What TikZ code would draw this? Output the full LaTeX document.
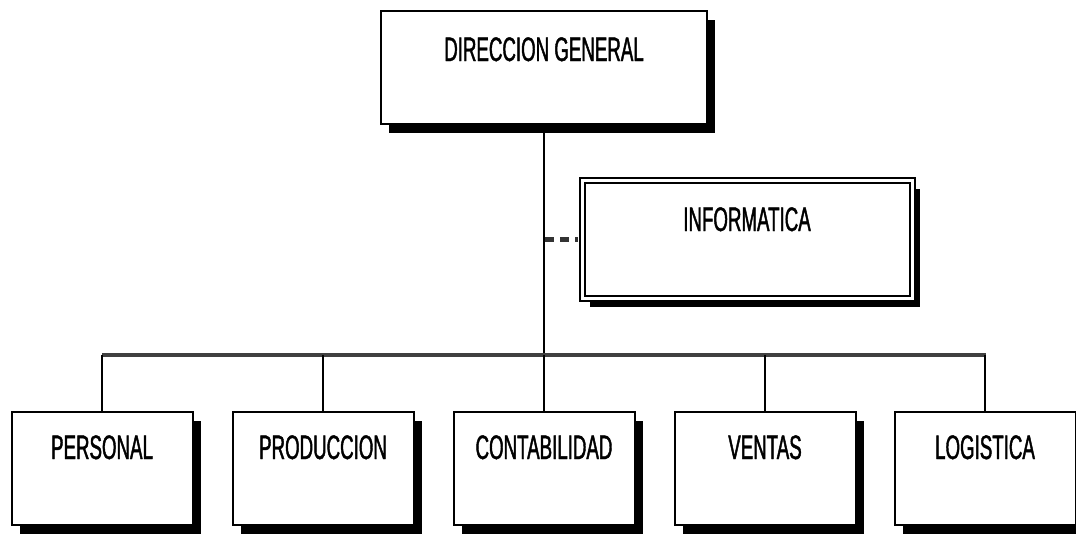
\documentclass[tikz,border=0pt]{standalone}
\usepackage{fontspec}
\setmainfont[FakeStretch=0.55,FakeBold=1.2]{Liberation Sans}
\usetikzlibrary{shadows}
\begin{document}
\begin{tikzpicture}[x=1pt,y=-1pt,
  box/.style={draw=black, line width=2pt, fill=white, rectangle, inner sep=0pt,
    font=\fontsize{34}{34}\selectfont,
    drop shadow={shadow xshift=8pt, shadow yshift=-9pt, fill=black, opacity=1}},
  unitbox/.style={box, minimum width=181pt, text height=47pt, text depth=66pt},
  link/.style={draw=black, line width=2pt},
  bus/.style={draw=black!75, line width=3.5pt},
  staff/.style={draw=black!80, line width=5pt, dash pattern=on 9pt off 6pt}
]
\useasboundingbox (0,0) rectangle (1076,533);
\fill[white] (0,0) rectangle (1076,533);

% top box
\node[box, minimum width=326pt, text height=50pt, text depth=63pt, anchor=north]
  (dg) at (544,10) {DIRECCION GENERAL};

% staff box (double border)
\node[box, double=white, double distance=3pt, line width=2pt,
  minimum width=330pt, text height=51pt, text depth=67pt, anchor=north]
  (info) at (747,179) {INFORMATICA};

% bottom boxes
\node[unitbox, anchor=north] (personal) at (102,411) {PERSONAL};
\node[unitbox, anchor=north] (produccion) at (323,411) {PRODUCCION};
\node[unitbox, anchor=north] (contabilidad) at (544,411) {CONTABILIDAD};
\node[unitbox, anchor=north] (ventas) at (765,411) {VENTAS};
\node[unitbox, anchor=north] (logistica) at (985,411) {LOGISTICA};

% bus coordinates
\coordinate (busL) at (102,355);
\coordinate (busR) at (986,355);
\coordinate (busM) at (dg.south |- busL);
\coordinate (staffpt) at (dg.south |- info.west);

% connectors
\draw[link] (dg.south) -- (busM);
\draw[bus] (busL) -- (busR);
\foreach \n in {personal,produccion,contabilidad,ventas,logistica}
  \draw[link] (\n.north) -- (\n.north |- busL);
\draw[staff] ([xshift=1pt]staffpt) -- ([xshift=-3pt]info.west);
\end{tikzpicture}
\end{document}
